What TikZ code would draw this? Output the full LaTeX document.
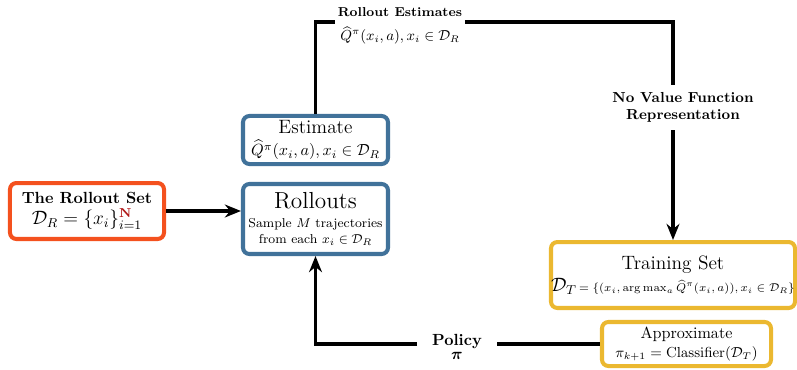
\documentclass[tikz,border=0pt]{standalone}
\usepackage{amsmath,amssymb}
\usetikzlibrary{arrows.meta}
\definecolor{setorange}{HTML}{F4511E}
\definecolor{boxblue}{HTML}{41729A}
\definecolor{boxyellow}{HTML}{EBB830}
\definecolor{nred}{HTML}{B01818}
\begin{document}
\begin{tikzpicture}[x=0.62pt,y=-0.62pt,
  box/.style={draw,line width=2.5pt,rounded corners=4pt,inner sep=0pt,align=center},
  conn/.style={line width=1.9pt},
  arr/.style={conn,-{Stealth[length=10pt,width=8pt]}},
  lbl/.style={align=center,inner sep=0pt}]
\useasboundingbox (0,0) rectangle (797,370);
\node[box,draw=setorange,minimum width=95.5pt,minimum height=34.7pt] (setbox) at (87,211)
  {\textbf{The Rollout Set}\\[1pt] {\large $\mathcal{D}_R=\{x_i\}_{i=1}^{\textcolor{nred}{\mathbf{N}}}$}};
\node[box,draw=boxblue,minimum width=89.9pt,minimum height=29.8pt] (estbox) at (315.5,140)
  {{\large Estimate}\\[2pt] $\widehat{Q}^{\pi}(x_i,a),x_i\in\mathcal{D}_R$};
\node[box,draw=boxblue,minimum width=89.9pt,minimum height=43.4pt] (rolbox) at (315.5,219)
  {{\Large Rollouts}\\[0pt] {\footnotesize Sample $M$ trajectories}\\[-2pt] {\footnotesize from each $x_i\in\mathcal{D}_R$}};
\node[box,draw=boxyellow,minimum width=151.3pt,minimum height=40.9pt] (trainbox) at (673,275)
  {{\large Training Set}\\[2pt] {\large $\mathcal{D}_T$}{\scriptsize $\,=\{(x_i,\arg\max_a\widehat{Q}^{\pi}(x_i,a)),x_i\in\mathcal{D}_R\}$}};
\node[box,draw=boxyellow,minimum width=104.8pt,minimum height=27.3pt] (approxbox) at (686.5,344)
  {Approximate\\[0pt] {\small $\pi_{k+1}=\mathrm{Classifier}(\mathcal{D}_T)$}};
\node[lbl,minimum width=80pt,minimum height=24pt] (toplbl) at (400,26)
  {\footnotesize\textbf{Rollout Estimates}\\[3pt] {\small $\widehat{Q}^{\pi}(x_i,a),x_i\in\mathcal{D}_R$}};
\node[lbl,minimum height=28pt] (novf) at (683,107.5)
  {\small\textbf{No Value Function}\\[-1pt] \small\textbf{Representation}};
\node[lbl,minimum width=49pt] (pol) at (457,347)
  {\textbf{Policy}\\[-3pt] $\boldsymbol{\pi}$};
\coordinate (c1) at (315.5,22);
\coordinate (c2) at (673,22);
\draw[arr] (setbox.east) -- (setbox.east -| rolbox.west);
\draw[conn] (estbox.north) |- (c1 -| toplbl.west);
\draw[conn] (c1 -| toplbl.east) -- (c2) -- (c2 |- novf.north);
\draw[arr] (trainbox.north |- novf.south) -- (trainbox.north);
\draw[conn] (approxbox.west) -- (approxbox.west -| pol.east);
\draw[arr] (approxbox.west -| pol.west) -| (rolbox.south);
\end{tikzpicture}
\end{document}
